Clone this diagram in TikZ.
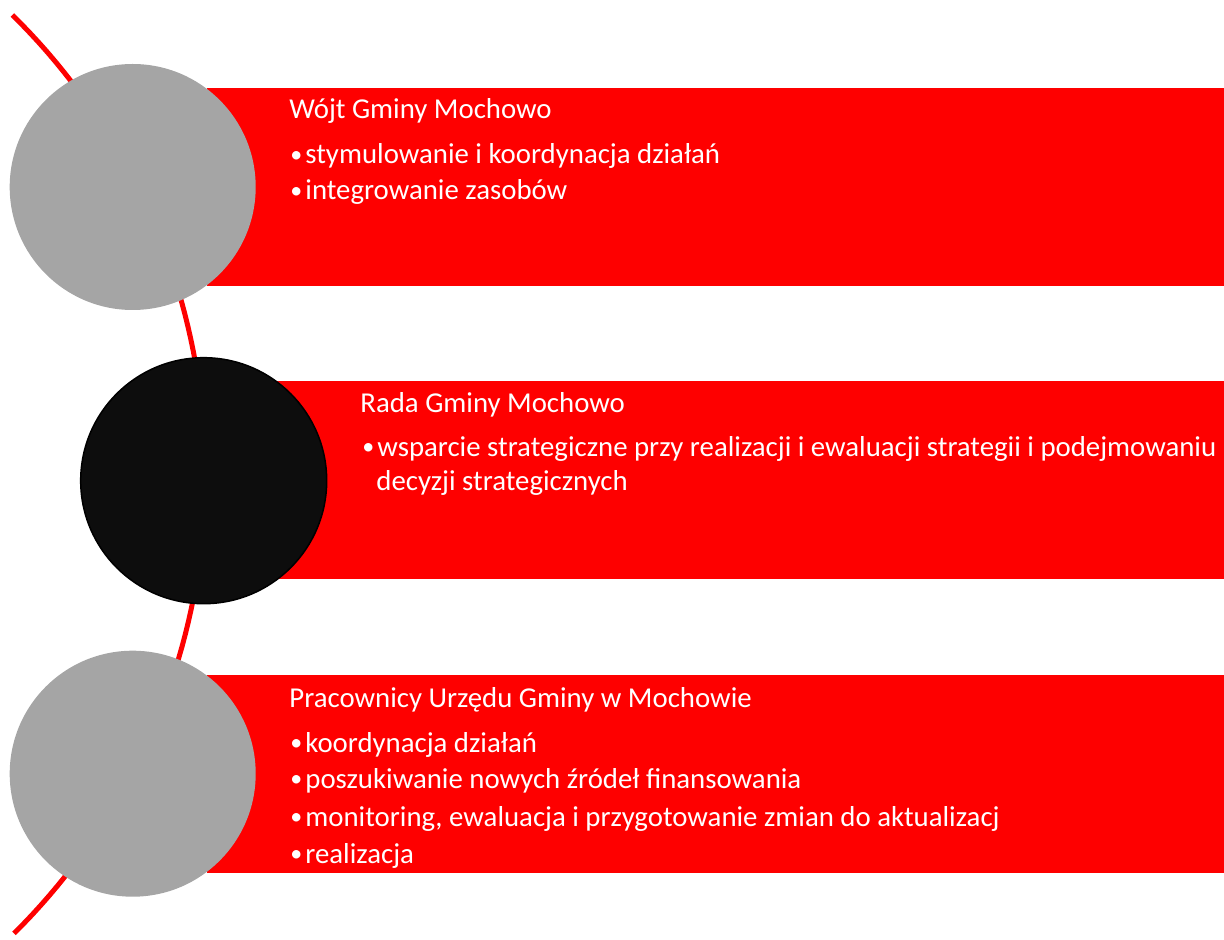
\documentclass[tikz,border=0pt]{standalone}
\usepackage{fontspec}
\setmainfont{Carlito}
\usetikzlibrary{positioning}
\definecolor{bandred}{RGB}{254,0,0}
\definecolor{discgray}{RGB}{165,165,165}
\definecolor{discblack}{RGB}{13,13,13}
\newcommand\punkt{\makebox[7.5pt][l]{\raisebox{0.8pt}{\fontsize{12pt}{12pt}\selectfont\textbullet}}}

\begin{document}
\begin{tikzpicture}[x=0.5pt, y=-0.5pt,
  band/.style={rectangle, fill=bandred, inner sep=0pt, minimum height=99pt},
  disc/.style={circle, fill=discgray, inner sep=0pt, minimum size=123pt},
  heading/.style={anchor=base west, inner sep=0pt, text=white, font=\fontsize{14.4pt}{17pt}\selectfont},
  item/.style={heading}]

\useasboundingbox (0,0) rectangle (1224,940);

% arc behind the discs
\draw[bandred, line width=2.5pt] plot[domain=-45.5:45.3, samples=80] ({-439.7+645*cos(\x)}, {475+645*sin(\x)});

% Wojt
\node[band, minimum width=508.5pt] (b1) at (715.5,187) {};
\node[disc] (c1) at (132.7,187) {};
\node[heading] (h1) at (289,119) {Wójt Gminy Mochowo};
\node[item] (w1) at (290,164) {\punkt stymulowanie i koordynacja działań};
\node[item] (w2) at (290,200) {\punkt integrowanie zasobów};

% Rada
\node[band, minimum width=473.5pt] (b2) at (750.5,480) {};
\node[disc, fill=discblack, draw=black, line width=0.75pt] (c2) at (203.7,480.7) {};
\node[heading] (h2) at (360,413) {Rada Gminy Mochowo};
\node[item] (r1) at (362,456) {\punkt wsparcie strategiczne przy realizacji i ewaluacji strategii i podejmowaniu};
\node[item] (r2) at (376,490) {decyzji strategicznych};

% Pracownicy
\node[band, minimum width=508.5pt] (b3) at (715.5,774) {};
\node[disc] (c3) at (132.7,773.7) {};
\node[heading] (h3) at (289,707) {Pracownicy Urzędu Gminy w Mochowie};
\node[item] (p1) at (290,752) {\punkt koordynacja działań};
\node[item] (p2) at (290,788) {\punkt poszukiwanie nowych źródeł finansowania};
\node[item] (p3) at (290,826) {\punkt monitoring, ewaluacja i przygotowanie zmian do aktualizacj};
\node[item] (p4) at (290,863) {\punkt realizacja};

\end{tikzpicture}
\end{document}
